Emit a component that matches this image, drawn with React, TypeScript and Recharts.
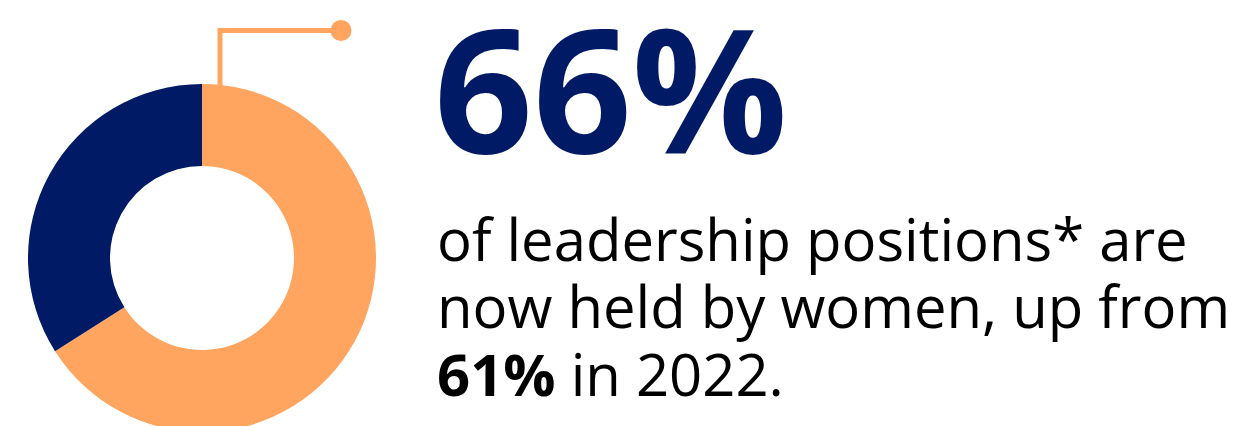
import React from 'react';
import { PieChart, Pie, Cell } from 'recharts';

const shares = [
  { name: 'Women', value: 66 },
  { name: 'Men', value: 34 },
];
const COLORS = ['#FFA55F', '#001A66'];

const headline = '66%';
const bodyLines = ['of leadership positions* are', 'now held by women, up from'];
const lastBold = '61%';
const lastRest = ' in 2022.';

export default function App() {
  return (
    <div
      style={{
        position: 'absolute',
        left: 0,
        top: 0,
        width: 1241,
        height: 426,
        overflow: 'hidden',
        background: '#ffffff',
        fontFamily: '"Open Sans", sans-serif',
      }}
    >
      <PieChart width={1241} height={426} margin={{ top: 0, right: 0, bottom: 0, left: 0 }}>
        <Pie
          data={shares}
          dataKey="value"
          nameKey="name"
          cx={202}
          cy={258}
          innerRadius={92}
          outerRadius={174}
          startAngle={90}
          endAngle={-270}
          stroke="none"
          isAnimationActive={false}
        >
          {shares.map((entry, index) => (
            <Cell key={`cell-${index}`} fill={COLORS[index % COLORS.length]} />
          ))}
        </Pie>
      </PieChart>

      {/* leader line + text */}
      <svg width={1241} height={426} style={{ position: 'absolute', left: 0, top: 0 }}>
        <polyline
          points="220,86 220,30.5 341,30.5"
          fill="none"
          stroke="#FFA55F"
          strokeWidth={5}
        />
        <circle cx={341} cy={30.5} r={10.5} fill="#FFA55F" />

        <text x={434} y={153} fontSize={173} fontWeight={700} fill="#001A66">
          {headline}
        </text>
        {bodyLines.map((line, i) => (
          <text key={i} x={437} y={261 + i * 67} fontSize={58} fill="#000000">
            {line}
          </text>
        ))}
        <text x={437} y={396} fontSize={58} fill="#000000">
          <tspan fontWeight={700}>{lastBold}</tspan>
          <tspan>{lastRest}</tspan>
        </text>
      </svg>
    </div>
  );
}
